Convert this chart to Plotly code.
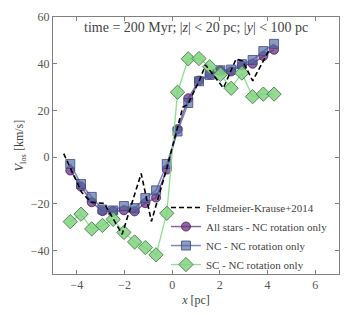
import plotly.graph_objects as go

# Bin centres (pc)
x_bins = [-4.275, -3.825, -3.375, -2.925, -2.475, -2.025, -1.575, -1.125, -0.675, -0.225,
          0.225, 0.675, 1.125, 1.575, 2.025, 2.475, 2.925, 3.375, 3.825, 4.275]

v_all = [-5.7, -12.6, -19.3, -23.1, -23.1, -22.7, -23.2, -19.7, -17.3, -5.3,
         12.0, 25.2, 32.8, 35.4, 37.0, 36.7, 39.3, 40.0, 43.3, 46.0]
v_nc = [-2.9, -11.5, -17.0, -22.4, -22.8, -20.9, -21.8, -17.5, -14.2, -2.9,
        11.0, 23.2, 32.5, 35.2, 37.2, 37.5, 39.8, 41.6, 45.4, 48.5]
v_sc = [-27.6, -24.4, -30.7, -29.2, -26.6, -32.2, -36.3, -38.7, -41.8, -24.0,
        27.8, 42.1, 42.2, 38.7, 35.4, 29.5, 36.0, 25.9, 27.0, 27.0]

x_fk = [-4.55, -3.8, -3.4, -2.85, -2.1, -1.3, -0.87, -0.22, 0.45, 0.65, 1.15, 1.4,
        2.15, 2.68, 2.95, 3.38, 4.1]
v_fk = [1.5, -15.0, -19.3, -19.8, -33.0, -7.0, -27.5, -4.5, 21.5, 22.5, 33.0, 39.5,
        29.6, 42.0, 41.2, 32.7, 46.5]

y_ticks = [-40, -20, 0, 20, 40, 60]
x_ticks = [-4, -2, 0, 2, 4, 6]

title_text = "time = 200 Myr; |<i>z</i>| < 20 pc; |<i>y</i>| < 100 pc"
x_label = "<i>x</i> [pc]"
y_label = "<i>V</i><sub>los</sub> [km/s]"

serif = "Liberation Serif, Times New Roman, serif"

fig = go.Figure()

fig.add_trace(go.Scatter(
    x=x_bins, y=v_all, mode="lines+markers", name="All stars - NC rotation only",
    line=dict(color="rgba(112,60,140,0.8)", width=1.5),
    marker=dict(symbol="circle", size=9, color="rgba(110,50,130,0.75)",
                line=dict(color="rgba(70,30,90,0.8)", width=1)),
    legendrank=2,
))
fig.add_trace(go.Scatter(
    x=x_bins, y=v_nc, mode="lines+markers", name="NC - NC rotation only",
    line=dict(color="rgba(90,110,170,0.8)", width=1.5),
    marker=dict(symbol="square", size=9, color="rgba(80,100,160,0.65)",
                line=dict(color="rgba(60,75,130,0.8)", width=1)),
    legendrank=3,
))
fig.add_trace(go.Scatter(
    x=x_bins, y=v_sc, mode="lines+markers", name="SC - NC rotation only",
    line=dict(color="rgba(130,220,130,0.9)", width=1.3),
    marker=dict(symbol="diamond", size=11, color="rgba(130,210,130,0.85)",
                line=dict(color="rgba(70,130,70,0.9)", width=1)),
    legendrank=4,
))
fig.add_trace(go.Scatter(
    x=x_fk, y=v_fk, mode="lines", name="Feldmeier-Krause+2014",
    line=dict(color="black", width=1.6, dash="5px,3px"),
    legendrank=1,
))

axis_common = dict(
    showgrid=False, zeroline=False, showline=True, linecolor="#808080", linewidth=1,
    mirror="ticks", ticks="inside", ticklen=4, tickcolor="#808080",
    tickfont=dict(family=serif, size=12, color="#555555"),
)

fig.update_layout(
    width=357, height=315,
    margin=dict(l=53, r=18, t=10, b=38),
    paper_bgcolor="white", plot_bgcolor="white",
    font=dict(family=serif, color="#444444"),
    xaxis=dict(range=[-5, 7], tickvals=x_ticks, **axis_common,
               title=dict(text=x_label, font=dict(family=serif, size=12, color="#444444"), standoff=4)),
    yaxis=dict(range=[-50, 60], tickvals=y_ticks, **axis_common,
               title=dict(text=y_label, font=dict(family=serif, size=12, color="#444444"), standoff=4)),
    legend=dict(x=0.395, y=0.315, xanchor="left", yanchor="top", bgcolor="rgba(0,0,0,0)",
                font=dict(family=serif, size=11, color="#444444"), tracegroupgap=0,
                itemwidth=30),
    showlegend=True,
    annotations=[dict(text=title_text, x=0.5, y=0.995, xref="paper", yref="paper",
                      xanchor="center", yanchor="top", showarrow=False,
                      font=dict(family=serif, size=14, color="#444444"))],
)

fig.write_html("out.html", config={"displayModeBar": False},
               post_script="document.body.style.margin='0';document.body.style.padding='0';")
